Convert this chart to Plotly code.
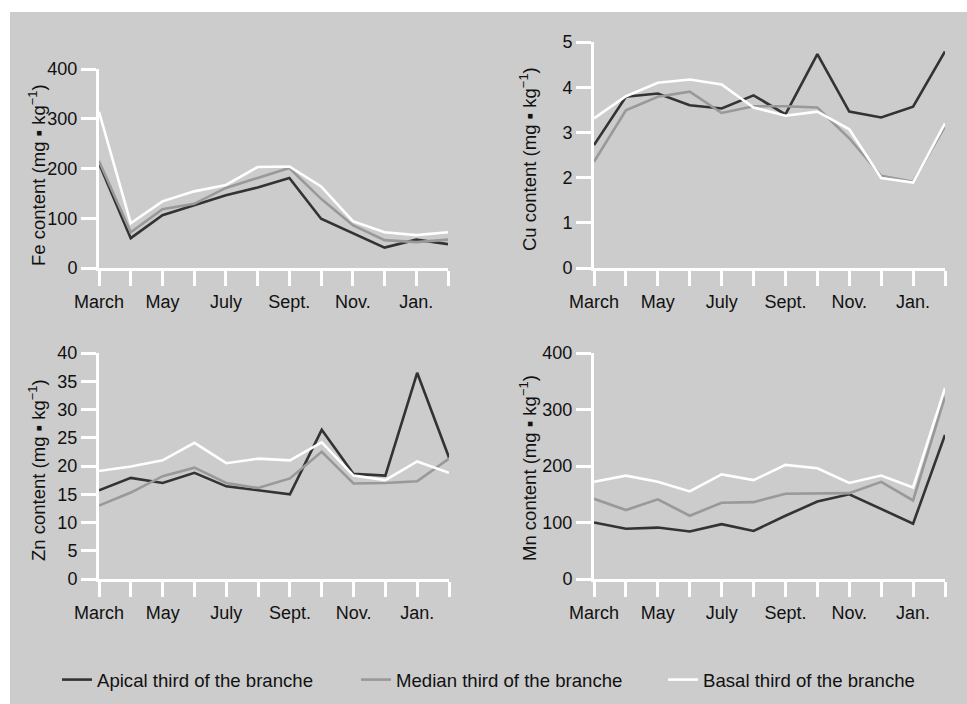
import plotly.graph_objects as go

# Sampling months (March to February)
months = ["March", "April", "May", "June", "July", "August", "September",
          "October", "November", "December", "January", "February"]
month_labels = ["March", "May", "July", "Sept.", "Nov.", "Jan."]

series_names = ["Apical third of the branche", "Median third of the branche",
                "Basal third of the branche"]

# Fe content (mg/kg)
fe_apical = [210, 60, 106, 126, 146, 162, 181, 99, 70, 41, 57, 48]
fe_median = [215, 72, 118, 129, 161, 181, 201, 139, 86, 56, 52, 57]
fe_basal = [314, 90, 134, 154, 167, 203, 204, 164, 94, 72, 66, 72]

# Cu content (mg/kg)
cu_apical = [2.72, 3.79, 3.86, 3.60, 3.53, 3.82, 3.40, 4.73, 3.46, 3.33, 3.57, 4.79]
cu_median = [2.35, 3.49, 3.79, 3.90, 3.43, 3.58, 3.58, 3.55, 2.87, 2.04, 1.91, 3.13]
cu_basal = [3.31, 3.80, 4.10, 4.17, 4.06, 3.55, 3.37, 3.46, 3.07, 1.99, 1.89, 3.20]

# Zn content (mg/kg)
zn_apical = [15.7, 17.9, 17.0, 18.8, 16.4, 15.7, 15.0, 26.4, 18.6, 18.3, 36.5, 21.5]
zn_median = [13.0, 15.3, 18.2, 19.7, 17.0, 16.1, 17.8, 22.5, 16.9, 17.0, 17.3, 21.3]
zn_basal = [19.1, 19.9, 21.0, 24.1, 20.5, 21.3, 21.0, 24.2, 18.3, 17.5, 20.8, 18.8]

# Mn content (mg/kg)
mn_apical = [100, 89, 91, 84, 97, 85, 112, 137, 150, 124, 98, 255]
mn_median = [142, 122, 141, 112, 135, 136, 151, 151, 152, 172, 139, 323]
mn_basal = [172, 183, 172, 155, 185, 175, 202, 196, 170, 183, 162, 338]

fe_ticks = [0, 100, 200, 300, 400]
cu_ticks = [0, 1, 2, 3, 4, 5]
zn_ticks = [0, 5, 10, 15, 20, 25, 30, 35, 40]
mn_ticks = [0, 100, 200, 300, 400]

W, H = 967, 704
BG = "#cccccc"
LINE_COLORS = ["#333333", "#999999", "#ffffff"]
FONT = "Liberation Sans, Arial, Helvetica, sans-serif"
TEXT = "#111111"
FS = 18

# month index along the x axis; every other month carries a label
month_pos = list(range(len(months)))
label_pos = month_pos[::2]


def px_x(x):
    return x / W


def px_y(y):
    return 1 - y / H


panels = [
    # (series, ticks, element, x-pixels, y-pixels(top, bottom))
    ((fe_apical, fe_median, fe_basal), fe_ticks, "Fe", (99, 448), (69, 268)),
    ((cu_apical, cu_median, cu_basal), cu_ticks, "Cu", (594, 945), (42, 268)),
    ((zn_apical, zn_median, zn_basal), zn_ticks, "Zn", (99, 449), (353, 579)),
    ((mn_apical, mn_median, mn_basal), mn_ticks, "Mn", (594, 945), (353, 579)),
]
title_pos = [(37, 175), (528, 159), (37, 470), (528, 468)]

fig = go.Figure()
layout = dict(
    width=W, height=H, autosize=False,
    margin=dict(l=0, r=0, t=0, b=0, pad=0, autoexpand=False),
    paper_bgcolor="#ffffff", plot_bgcolor="rgba(0,0,0,0)",
    font=dict(family=FONT, size=FS, color=TEXT),
)

annotations = []
for i, (data, ticks, elem, (x0, x1), (yt, yb)) in enumerate(panels):
    n = i + 1
    xa = "x" if n == 1 else f"x{n}"
    ya = "y" if n == 1 else f"y{n}"
    for j, (vals, name, col) in enumerate(zip(data, series_names, LINE_COLORS)):
        fig.add_trace(go.Scatter(
            x=month_pos, y=vals, mode="lines", name=name,
            text=months, hovertemplate="%{text}: %{y}<extra></extra>",
            line=dict(color=col, width=2.6),
            xaxis=xa, yaxis=ya,
            showlegend=(n == 1),
            legend="legend" if j == 0 else f"legend{j + 1}",
        ))
    axis_common = dict(
        showline=True, linecolor="#ffffff", linewidth=3,
        ticks="outside", ticklen=15, tickwidth=3, tickcolor="#ffffff",
        showgrid=False, zeroline=False, fixedrange=True, automargin=False,
        tickfont=dict(family=FONT, size=FS, color=TEXT),
    )
    layout["xaxis" if n == 1 else f"xaxis{n}"] = dict(
        axis_common, range=[month_pos[0], month_pos[-1]],
        tickmode="array", tickvals=label_pos, ticktext=month_labels,
        minor=dict(ticks="outside", ticklen=15, tickwidth=3, tickcolor="#ffffff",
                   tickmode="array", tickvals=month_pos, showgrid=False),
        domain=[px_x(x0), px_x(x1)], anchor=ya,
    )
    layout["yaxis" if n == 1 else f"yaxis{n}"] = dict(
        axis_common, range=[ticks[0], ticks[-1]],
        tickmode="array", tickvals=ticks,
        domain=[px_y(yb), px_y(yt)], anchor=xa,
    )
    tx, ty = title_pos[i]
    annotations.append(dict(
        text=f"{elem} content (mg \u25aa kg<sup>\u22121</sup>)",
        x=px_x(tx), y=px_y(ty), xref="paper", yref="paper",
        xanchor="center", yanchor="middle", textangle=-90, showarrow=False,
        font=dict(family=FONT, size=18.5, color=TEXT),
    ))

layout["annotations"] = annotations
layout["shapes"] = [dict(
    type="rect", xref="paper", yref="paper",
    x0=px_x(10), x1=1, y0=0, y1=px_y(12),
    fillcolor=BG, line=dict(width=0), layer="below",
)]

legend_x = [57, 356, 663]
for k, lx in enumerate(legend_x):
    key = "legend" if k == 0 else f"legend{k + 1}"
    layout[key] = dict(
        x=px_x(lx), y=px_y(680), xanchor="left", yanchor="middle",
        orientation="h", bgcolor="rgba(0,0,0,0)", borderwidth=0,
        font=dict(family=FONT, size=18.6, color=TEXT),
        itemwidth=30,
    )

fig.update_layout(**layout)
fig.write_html(
    "out.html",
    post_script="document.body.style.margin='0';document.body.style.overflow='hidden';",
)
